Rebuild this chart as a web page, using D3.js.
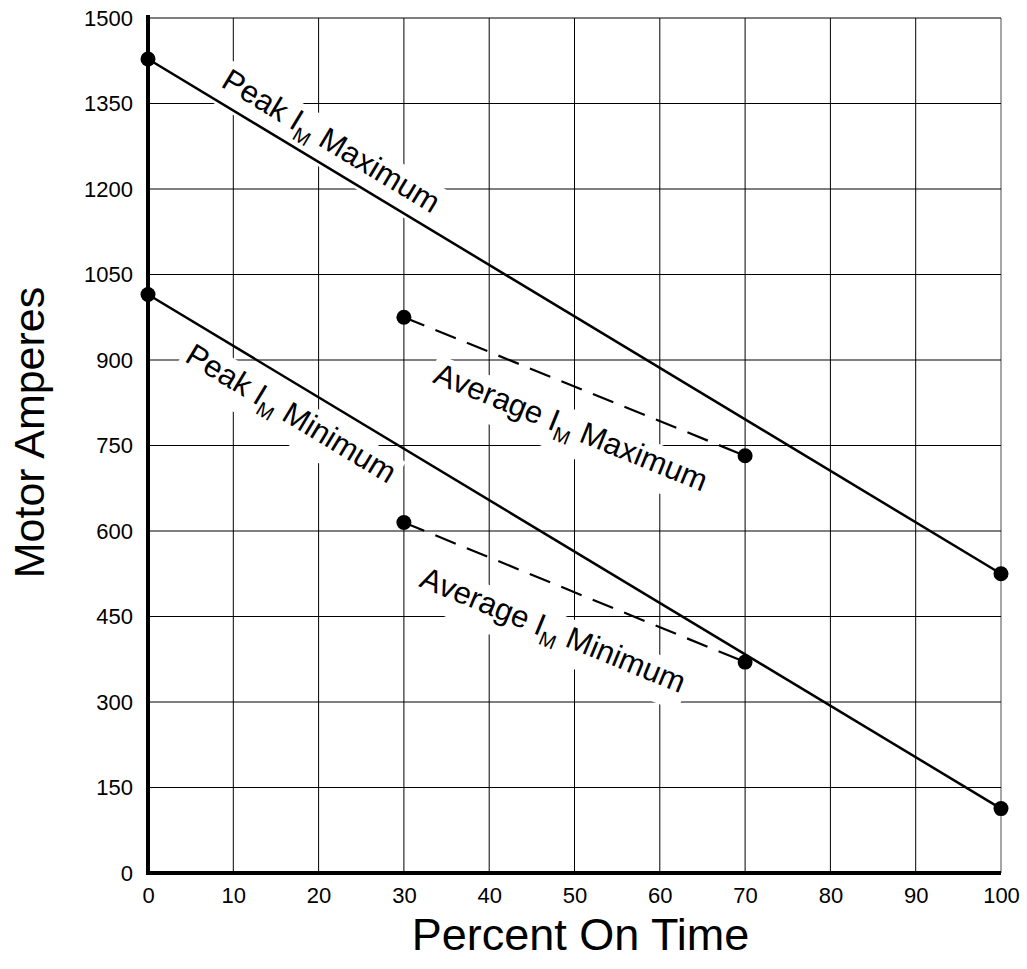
<!DOCTYPE html>
<html>
<head>
<meta charset="utf-8">
<script src="https://cdn.jsdelivr.net/npm/d3@7"></script>
<style>
  body { margin: 0; background: #fff; }
  text { font-family: "Liberation Sans", Arial, sans-serif; fill: #000; }
</style>
</head>
<body>
<svg></svg>
<script>
var viewWidth = 1027;
var viewHeight = 969;

// data
var xTicks = [0, 10, 20, 30, 40, 50, 60, 70, 80, 90, 100];
var yTicks = [0, 150, 300, 450, 600, 750, 900, 1050, 1200, 1350, 1500];

var peakMax = [{x: 0, y: 1428}, {x: 100, y: 525}];
var peakMin = [{x: 0, y: 1015}, {x: 100, y: 113}];
var avgMax = [{x: 30, y: 975}, {x: 70, y: 732}];
var avgMin = [{x: 30, y: 615}, {x: 70, y: 370}];

// label text, anchor (data units) and the series it runs along
var labels = [
  {name: "Peak", tail: " Maximum", x: 21.5, y: 1285, along: peakMax},
  {name: "Peak", tail: " Minimum", x: 16.8, y: 807, along: peakMin},
  {name: "Average", tail: " Maximum", x: 49.6, y: 783, along: avgMax},
  {name: "Average", tail: " Minimum", x: 47.5, y: 427, along: avgMin}
];

var svg = d3.select("svg")
  .attr("width", viewWidth)
  .attr("height", viewHeight);

var xScale = d3.scaleLinear().domain([0, 100]).range([148, 1001]);
var yScale = d3.scaleLinear().domain([0, 1500]).range([873, 18]);

// grid
var grid = svg.append("g");
grid.selectAll(".vline")
  .data(xTicks.filter(function(d){ return d > 0; }))
  .enter().append("line")
  .attr("x1", function(d){ return xScale(d); })
  .attr("x2", function(d){ return xScale(d); })
  .attr("y1", yScale(0))
  .attr("y2", yScale(1500))
  .attr("stroke", function(d){ return d == 100 ? "#888" : "#000"; })
  .attr("stroke-width", function(d){ return d == 100 ? 1.5 : 1; });
grid.selectAll(".hline")
  .data(yTicks.filter(function(d){ return d > 0; }))
  .enter().append("line")
  .attr("x1", xScale(0))
  .attr("x2", xScale(100))
  .attr("y1", function(d){ return yScale(d); })
  .attr("y2", function(d){ return yScale(d); })
  .attr("stroke", "#000")
  .attr("stroke-width", 1);

// axes
var xAxis = d3.axisBottom(xScale).tickValues(xTicks).tickSize(0).tickPadding(14)
  .tickFormat(d3.format("d"));
var yAxis = d3.axisLeft(yScale).tickValues(yTicks).tickSize(0).tickPadding(15)
  .tickFormat(d3.format("d"));

var gx = svg.append("g")
  .attr("transform", "translate(0," + yScale(0) + ")")
  .call(xAxis);
var gy = svg.append("g")
  .attr("transform", "translate(" + xScale(0) + ",0)")
  .call(yAxis);
[gx, gy].forEach(function(g){
  g.select(".domain").remove();
  g.attr("font-size", null).attr("font-family", null);
  g.selectAll("text").style("font-size", "22px").attr("fill", "#000");
});

svg.append("line")
  .attr("x1", xScale(0)).attr("x2", xScale(0))
  .attr("y1", yScale(1500) - 3).attr("y2", yScale(0) + 2)
  .attr("stroke", "#000").attr("stroke-width", 4);
svg.append("line")
  .attr("x1", xScale(0) - 2).attr("x2", xScale(100))
  .attr("y1", yScale(0)).attr("y2", yScale(0))
  .attr("stroke", "#000").attr("stroke-width", 4);

svg.append("text")
  .attr("x", (xScale(0) + xScale(100)) / 2 + 6)
  .attr("y", 950)
  .attr("text-anchor", "middle")
  .style("font-size", "45px")
  .text("Percent On Time");
svg.append("text")
  .attr("transform", "translate(44," + (yScale(750) - 13) + ") rotate(-90)")
  .attr("text-anchor", "middle")
  .style("font-size", "43px")
  .text("Motor Amperes");

// labels: white box goes under the lines, text on top
var bgLayer = svg.append("g");
var lineLayer = svg.append("g");
var textLayer = svg.append("g");

labels.forEach(function(d){
  var p0 = d.along[0], p1 = d.along[1];
  var ang = Math.atan2(yScale(p1.y) - yScale(p0.y), xScale(p1.x) - xScale(p0.x)) * 180 / Math.PI;
  var tr = "translate(" + xScale(d.x) + "," + yScale(d.y) + ") rotate(" + ang + ")";
  var t = textLayer.append("text")
    .attr("transform", tr)
    .attr("text-anchor", "middle")
    .attr("dy", "0.35em")
    .style("font-size", "31px");
  t.append("tspan").text(d.name + " I");
  t.append("tspan").attr("dy", 8).style("font-size", "20px").text("M");
  t.append("tspan").attr("dy", -8).text(d.tail);
  var b = t.node().getBBox();
  bgLayer.append("rect")
    .attr("transform", tr)
    .attr("fill", "#fff")
    .attr("x", b.x - 4).attr("y", b.y)
    .attr("width", b.width + 8).attr("height", b.height + 6);
});

// lines
var line = d3.line()
  .x(function(d){ return xScale(d.x); })
  .y(function(d){ return yScale(d.y); });

[peakMax, peakMin].forEach(function(s){
  lineLayer.append("path").datum(s)
    .attr("d", line).attr("fill", "none")
    .attr("stroke", "#000").attr("stroke-width", 2.5);
});
[avgMax, avgMin].forEach(function(s){
  lineLayer.append("path").datum(s)
    .attr("d", line).attr("fill", "none")
    .attr("stroke", "#000").attr("stroke-width", 2.2)
    .attr("stroke-dasharray", "22,12");
});

var allPts = peakMax.concat(peakMin, avgMax, avgMin);
lineLayer.selectAll(".pt")
  .data(allPts)
  .enter().append("circle")
  .attr("cx", function(d){ return xScale(d.x); })
  .attr("cy", function(d){ return yScale(d.y); })
  .attr("r", 7.5)
  .attr("fill", "#000");
</script>
</body>
</html>
